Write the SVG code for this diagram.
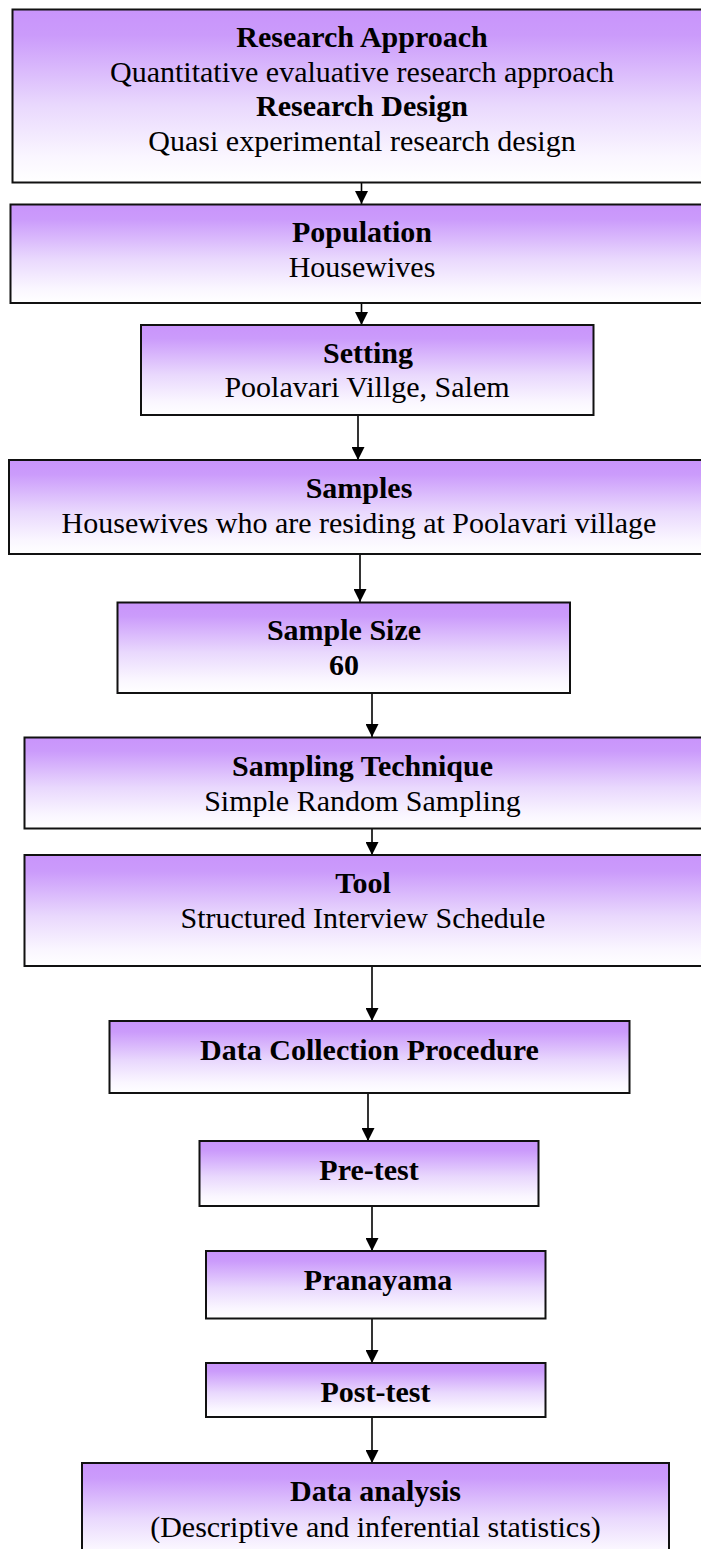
<svg xmlns="http://www.w3.org/2000/svg" width="701" height="1549" viewBox="0 0 701 1549">
  <defs>
    <linearGradient id="g" x1="0" y1="0" x2="0" y2="1">
      <stop offset="0" stop-color="#C994FB"/>
      <stop offset="0.15" stop-color="#CB9BFB"/>
      <stop offset="0.55" stop-color="#E9D8FD"/>
      <stop offset="0.85" stop-color="#FAF6FF"/>
      <stop offset="1" stop-color="#FFFFFF"/>
    </linearGradient>
    <marker id="ah" markerUnits="userSpaceOnUse" markerWidth="13" markerHeight="13" refX="13" refY="6.5" orient="auto">
      <path d="M0,0 L13,6.5 L0,13 z" fill="#000"/>
    </marker>
    <style>
      .box { fill: url(#g); stroke: #111; stroke-width: 2; }
      .t { font-family: "Liberation Serif", "Times New Roman", serif; font-size: 30px; fill: #000; text-anchor: middle; }
      .b { font-weight: bold; }
      .c { stroke: #000; stroke-width: 1.6; fill: none; marker-end: url(#ah); }
    </style>
  </defs>

  <g id="connectors">
    <line class="c" x1="361.5" y1="183" x2="361.5" y2="204"/>
    <line class="c" x1="361.5" y1="304" x2="361.5" y2="325"/>
    <line class="c" x1="358" y1="416" x2="358" y2="460"/>
    <line class="c" x1="360" y1="555" x2="360" y2="602"/>
    <line class="c" x1="372" y1="694" x2="372" y2="737"/>
    <line class="c" x1="372" y1="829" x2="372" y2="855"/>
    <line class="c" x1="372" y1="967" x2="372" y2="1021"/>
    <line class="c" x1="368" y1="1091" x2="368" y2="1141"/>
    <line class="c" x1="372" y1="1207" x2="372" y2="1251"/>
    <line class="c" x1="372" y1="1319" x2="372" y2="1363"/>
    <line class="c" x1="372" y1="1418" x2="372" y2="1463"/>
  </g>

  <g id="research-approach">
    <rect class="box" x="12.5" y="9.5" width="698" height="173"/>
    <text class="t b" x="362" y="47">Research Approach</text>
    <text class="t" x="362" y="82">Quantitative evaluative research approach</text>
    <text class="t b" x="362" y="116">Research Design</text>
    <text class="t" x="362" y="151">Quasi experimental research design</text>
  </g>

  <g id="population">
    <rect class="box" x="10.5" y="204.5" width="700" height="98.5"/>
    <text class="t b" x="362" y="242">Population</text>
    <text class="t" x="362" y="277">Housewives</text>
  </g>

  <g id="setting">
    <rect class="box" x="141" y="325" width="452.5" height="90"/>
    <text class="t b" x="368" y="362.5">Setting</text>
    <text class="t" x="367" y="397">Poolavari Villge, Salem</text>
  </g>

  <g id="samples">
    <rect class="box" x="9" y="460" width="702" height="94"/>
    <text class="t b" x="359" y="498">Samples</text>
    <text class="t" x="359" y="533">Housewives who are residing at Poolavari village</text>
  </g>

  <g id="sample-size">
    <rect class="box" x="117.5" y="602.5" width="452.5" height="90.5"/>
    <text class="t b" x="344" y="640">Sample Size</text>
    <text class="t b" x="344" y="675">60</text>
  </g>

  <g id="sampling-technique">
    <rect class="box" x="24.5" y="737.5" width="686" height="91"/>
    <text class="t b" x="362.5" y="776">Sampling Technique</text>
    <text class="t" x="362.5" y="810.5">Simple Random Sampling</text>
  </g>

  <g id="tool">
    <rect class="box" x="24.5" y="855" width="686" height="111"/>
    <text class="t b" x="363" y="893">Tool</text>
    <text class="t" x="363" y="928">Structured Interview Schedule</text>
  </g>

  <g id="data-collection">
    <rect class="box" x="109.5" y="1021" width="520" height="72"/>
    <text class="t b" x="369.5" y="1060">Data Collection Procedure</text>
  </g>

  <g id="pre-test">
    <rect class="box" x="199.5" y="1141" width="339" height="65"/>
    <text class="t b" x="369" y="1180">Pre-test</text>
  </g>

  <g id="pranayama">
    <rect class="box" x="206" y="1251" width="339.5" height="67.5"/>
    <text class="t b" x="378" y="1290">Pranayama</text>
  </g>

  <g id="post-test">
    <rect class="box" x="206" y="1363" width="339.5" height="54"/>
    <text class="t b" x="375.5" y="1402">Post-test</text>
  </g>

  <g id="data-analysis">
    <rect class="box" x="82" y="1463" width="587" height="100"/>
    <text class="t b" x="375.5" y="1501">Data analysis</text>
    <text class="t" x="375.5" y="1536.5">(Descriptive and inferential statistics)</text>
  </g>
</svg>
